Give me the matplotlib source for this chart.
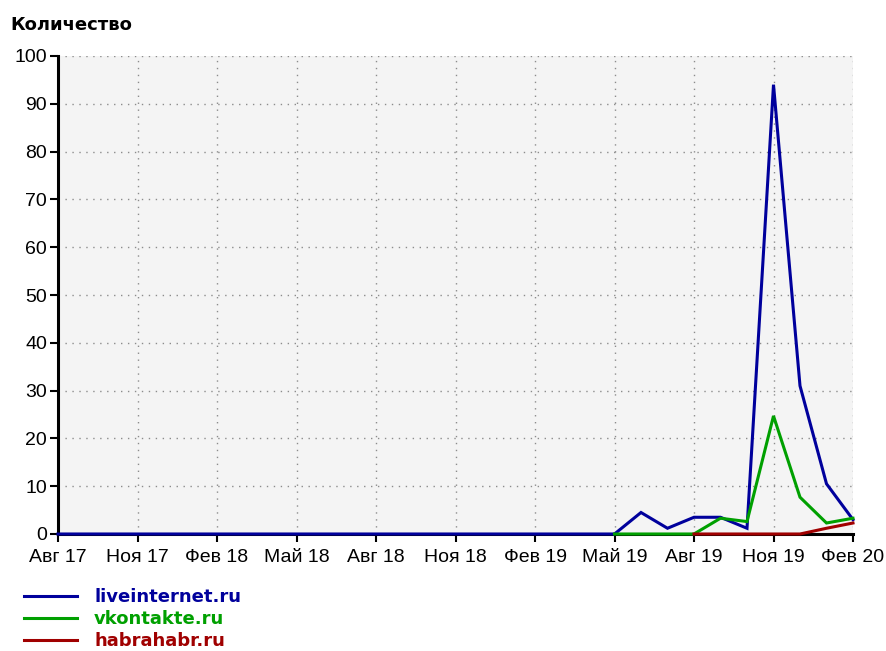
import matplotlib
matplotlib.use("Agg")
import matplotlib.pyplot as plt
import numpy as np

plt.rcParams["font.family"] = ["Liberation Sans", "DejaVu Sans"]

# months from Aug 2017 (index 0) to Feb 2020 (index 30)
tick_labels = ["Авг 17", "Ноя 17", "Фев 18", "Май 18", "Авг 18", "Ноя 18",
               "Фев 19", "Май 19", "Авг 19", "Ноя 19", "Фев 20"]
tick_months = [0, 3, 6, 9, 12, 15, 18, 21, 24, 27, 30]

liveinternet = [0] * 22 + [4.5, 1.2, 3.5, 3.5, 1.2, 94, 31, 10.5, 3.0]
vkontakte = [None] * 21 + [0, 0, 0, 0, 3.3, 2.6, 24.7, 7.7, 2.3, 3.3]
habrahabr = [None] * 24 + [0, 0, 0, 0, 0, 1.2, 2.3]

series = [
    ("liveinternet.ru", liveinternet, "#00009c"),
    ("vkontakte.ru", vkontakte, "#00a000"),
    ("habrahabr.ru", habrahabr, "#a00000"),
]

fig = plt.figure(figsize=(8.86, 6.51), dpi=100)
ax = fig.add_axes([58 / 886, 1 - 534 / 651, (853 - 58) / 886, (534 - 56) / 651])
ax.set_facecolor("#f4f4f4")

for name, vals, color in series:
    y = np.array([np.nan if v is None else v for v in vals], dtype=float)
    ax.plot(np.arange(len(y)), y, color=color, lw=2.2, label=name,
            solid_joinstyle="miter", clip_on=False, zorder=3)

ax.set_xlim(0, 30)
ax.set_ylim(0, 100)
ax.set_xticks(tick_months)
ax.set_xticklabels(tick_labels)
ax.set_yticks(range(0, 101, 10))
ax.grid(True, color="#8c8c8c", linestyle=(0, (1, 4)), lw=1.0)

for s in ("top", "right"):
    ax.spines[s].set_visible(False)
ax.spines["left"].set_linewidth(2.2)
ax.spines["bottom"].set_linewidth(2.2)
ax.tick_params(axis="both", length=6, width=1.5, labelsize=14, pad=2,
               colors="black", direction="out")
ax.tick_params(axis="x", pad=5)

fig.text(10 / 886, 1 - 25 / 651, "Количество", fontsize=13, fontweight="bold",
         family="DejaVu Sans", va="center", ha="left")

leg = fig.legend(loc="upper left", bbox_to_anchor=(24 / 886, 1 - 588 / 651),
                 frameon=False, handlelength=2.94, handletextpad=0.94,
                 labelspacing=0.22, borderpad=0, borderaxespad=0,
                 prop={"weight": "bold", "size": 13, "family": "DejaVu Sans"})
for line, text in zip(leg.get_lines(), leg.get_texts()):
    text.set_color(line.get_color())

fig.savefig("out.png", dpi=100)
